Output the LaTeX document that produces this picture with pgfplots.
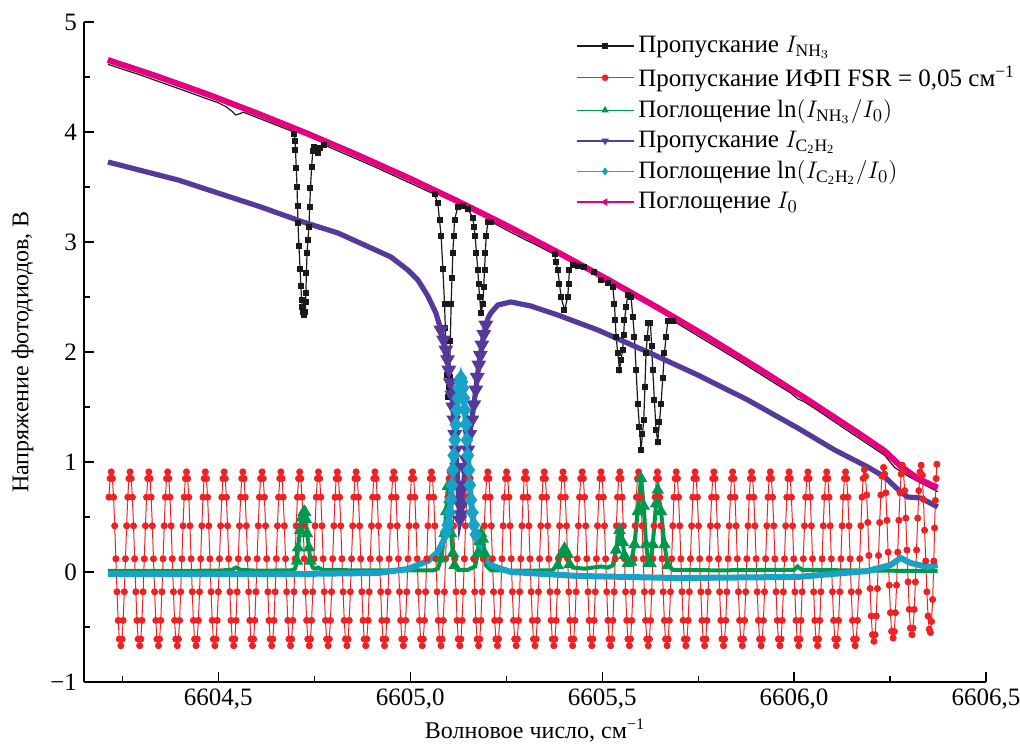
\documentclass[border=0pt]{standalone}
\usepackage{pgfplots}
\pgfplotsset{compat=1.18}
\usepackage{fontspec}
\setmainfont{Liberation Serif}
\definecolor{cBlack}{HTML}{1A1A1A}
\definecolor{cRed}{HTML}{EE2224}
\definecolor{cGreen}{HTML}{00984A}
\definecolor{cPurple}{HTML}{553A99}
\definecolor{cCyan}{HTML}{17A2C6}
\definecolor{cPink}{HTML}{E4007F}
\begin{document}
\begin{tikzpicture}[font=\fontsize{12}{14}\selectfont]
\begin{axis}[
  name=ax,
  scale only axis, width=451pt, height=330pt,
  xmin=6604.15, xmax=6606.5, ymin=-1, ymax=5,
  axis x line*=bottom, axis y line*=left,
  axis line style={-, line width=0.6pt},
  tick align=inside, major tick length=5pt, minor tick length=3pt,
  tick style={line width=0.6pt, black},
  ticklabel style={font=\fontsize{12.5}{14}\selectfont},
  xtick={6604.5,6605,6605.5,6606,6606.5},
  xticklabels={{6604,5},{6605,0},{6605,5},{6606,0},{6606,5}},
  minor xtick={6604.25,6604.75,6605.25,6605.75,6606.25},
  ytick={-1,0,1,2,3,4,5},
  yticklabels={−1,0,1,2,3,4,5},
  minor ytick={-0.5,0.5,1.5,2.5,3.5,4.5},
  xlabel={Волновое число, см\textsuperscript{−1}},
  ylabel={Напряжение фотодиодов, В},
  ylabel shift=1.5pt,
  xlabel shift=-2pt,
  legend style={at={(1.037,0.991)}, anchor=north east, draw=none, fill=white, inner xsep=0pt,
    font=\fontsize{12.5}{15}\selectfont, row sep=1.2pt},
  legend cell align=left,
  legend image code/.code={\draw[mark repeat=2,mark phase=2,line width=0.7pt] plot coordinates {(0cm,0cm) (0.5cm,0cm) (1cm,0cm)};},
]
\addlegendimage{color=cBlack, mark=square*, mark size=1.1pt}
\addlegendentry{Пропускание $I_{\mathrm{NH}_3}$}
\addlegendimage{color=cRed, mark=*, mark size=1.3pt}
\addlegendentry{Пропускание ИФП FSR = 0,05 см\textsuperscript{−1}}
\addlegendimage{color=cGreen, mark=triangle*, mark size=1.5pt}
\addlegendentry{Поглощение $\ln(I_{\mathrm{NH}_3}/I_0)$}
\addlegendimage{color=cPurple, mark=triangle*, mark size=1.5pt, mark options={rotate=180}}
\addlegendentry{Пропускание $I_{\mathrm{C_2H_2}}$}
\addlegendimage{color=cCyan, mark=diamond*, mark size=1.5pt}
\addlegendentry{Поглощение $\ln(I_{\mathrm{C_2H_2}}/I_0)$}
\addlegendimage{color=cPink, mark=triangle*, mark size=1.5pt, mark options={rotate=90}}
\addlegendentry{Поглощение $I_0$}
% I_NH3
\addplot[forget plot, color=cBlack, line width=0.6pt, mark=square*, mark size=1.2pt,
  mark indices={15,16,...,44,51,52,...,86,91,92,...,143}] coordinates {
(6604.2125,4.615)(6604.30,4.514)(6604.40,4.39)(6604.48,4.29)(6604.50,4.265)(6604.52,4.23)
(6604.535,4.19)(6604.545,4.155)(6604.555,4.165)(6604.565,4.18)(6604.58,4.16)(6604.62,4.105)
(6604.66,4.05)(6604.69,4.01)(6604.698,3.98)(6604.700,3.92)(6604.701,3.84)(6604.703,3.67)
(6604.705,3.50)(6604.7063,3.33)(6604.7075,3.17)(6604.710,2.96)(6604.713,2.75)(6604.715,2.60)
(6604.717,2.47)(6604.719,2.41)(6604.7215,2.36)(6604.724,2.34)(6604.7265,2.36)(6604.7272,2.45)
(6604.728,2.54)(6604.7295,2.72)(6604.731,2.90)(6604.7335,3.02)(6604.736,3.14)(6604.738,3.32)
(6604.740,3.49)(6604.743,3.68)(6604.746,3.83)(6604.750,3.86)(6604.756,3.84)
(6604.760,3.81)(6604.766,3.85)(6604.775,3.885)(6604.80,3.845)(6604.85,3.77)(6604.90,3.695)
(6604.95,3.615)(6605.00,3.535)(6605.04,3.47)(6605.0633,3.435)(6605.0719,3.35)(6605.0762,3.20)
(6605.0805,3.05)(6605.0850,2.75)(6605.0893,2.44)(6605.0914,2.22)(6605.0935,1.99)(6605.0957,1.79)
(6605.0979,1.594)(6605.1001,1.68)(6605.1023,1.775)(6605.1044,2.10)(6605.1065,2.44)(6605.1087,2.67)
(6605.1109,2.90)(6605.1131,3.05)(6605.1154,3.20)(6605.1240,3.32)(6605.1370,3.33)(6605.1500,3.30)
(6605.1630,3.22)(6605.1660,3.14)(6605.1690,3.05)(6605.1725,2.90)(6605.1760,2.745)(6605.1783,2.62)
(6605.1805,2.50)(6605.1846,2.35)(6605.1891,2.44)(6605.1913,2.59)(6605.1935,2.745)(6605.1956,2.90)
(6605.1977,3.05)(6605.2021,3.18)(6605.2107,3.185)(6605.25,3.11)(6605.30,3.02)(6605.33,2.97)
(6605.36,2.915)(6605.3758,2.89)(6605.3800,2.82)(6605.3844,2.745)(6605.3887,2.62)(6605.3930,2.50)
(6605.4018,2.38)(6605.4104,2.50)(6605.4125,2.62)(6605.4148,2.745)(6605.4234,2.79)
(6605.4365,2.785)(6605.4539,2.77)(6605.4799,2.725)(6605.4971,2.655)(6605.5146,2.625)
(6605.5276,2.594)(6605.5320,2.44)(6605.5341,2.29)(6605.5362,2.14)(6605.5406,1.99)(6605.5451,1.836)
(6605.5493,1.93)(6605.5536,2.02)(6605.5558,2.15)(6605.5581,2.29)(6605.5624,2.41)(6605.5667,2.52)
(6605.5753,2.50)(6605.5797,2.32)(6605.5841,2.14)(6605.5884,1.84)(6605.5927,1.53)(6605.5970,1.32)
(6605.6013,1.11)(6605.6048,1.25)(6605.6083,1.38)(6605.6113,1.68)(6605.6143,1.99)(6605.6175,2.13)
(6605.6206,2.26)(6605.6258,2.26)(6605.6288,2.05)(6605.6318,1.836)(6605.6361,1.56)(6605.6404,1.29)
(6605.6448,1.185)(6605.6491,1.36)(6605.6534,1.53)(6605.6578,1.76)(6605.6622,1.99)(6605.6665,2.14)
(6605.6708,2.28)(6605.6839,2.285)(6605.75,2.145)(6605.85,1.935)(6605.95,1.715)
(6605.99,1.63)(6606.009,1.575)(6606.025,1.55)(6606.05,1.495)(6606.15,1.26)
(6606.236,1.06)(6606.262,0.95)(6606.30,0.865)(6606.374,0.73)
};
% FSR
\addplot[forget plot, color=cRed, line width=0.5pt, mark=*, mark size=1.5pt] coordinates {
(6604.215,.68)(6604.218,.85)
(6604.221,.91)(6604.224,.85)(6604.227,.68)(6604.230,.42)(6604.233,.12)(6604.236,-.18)(6604.239,-.44)(6604.242,-.61)(6604.246,-.67)(6604.249,-.61)(6604.252,-.44)(6604.255,-.18)(6604.258,.12)(6604.261,.42)(6604.264,.68)(6604.267,.85)
(6604.270,.91)(6604.273,.85)(6604.276,.68)(6604.279,.42)(6604.282,.12)(6604.285,-.18)(6604.288,-.44)(6604.291,-.61)(6604.295,-.67)(6604.298,-.61)(6604.301,-.44)(6604.304,-.18)(6604.307,.12)(6604.310,.42)(6604.313,.68)(6604.316,.85)
(6604.319,.91)(6604.322,.85)(6604.325,.68)(6604.328,.42)(6604.331,.12)(6604.334,-.18)(6604.337,-.44)(6604.340,-.61)(6604.344,-.67)(6604.347,-.61)(6604.350,-.44)(6604.353,-.18)(6604.356,.12)(6604.359,.42)(6604.362,.68)(6604.365,.85)
(6604.368,.91)(6604.371,.85)(6604.374,.68)(6604.377,.42)(6604.380,.12)(6604.383,-.18)(6604.386,-.44)(6604.389,-.61)(6604.393,-.67)(6604.396,-.61)(6604.399,-.44)(6604.402,-.18)(6604.405,.12)(6604.408,.42)(6604.411,.68)(6604.414,.85)
(6604.417,.91)(6604.420,.85)(6604.423,.68)(6604.426,.42)(6604.429,.12)(6604.432,-.18)(6604.435,-.44)(6604.438,-.61)(6604.442,-.67)(6604.445,-.61)(6604.448,-.44)(6604.451,-.18)(6604.454,.12)(6604.457,.42)(6604.460,.68)(6604.463,.85)
(6604.466,.91)(6604.469,.85)(6604.472,.68)(6604.475,.42)(6604.478,.12)(6604.481,-.18)(6604.484,-.44)(6604.487,-.61)(6604.491,-.67)(6604.494,-.61)(6604.497,-.44)(6604.500,-.18)(6604.503,.12)(6604.506,.42)(6604.509,.68)(6604.512,.85)
(6604.515,.91)(6604.518,.85)(6604.521,.68)(6604.524,.42)(6604.527,.12)(6604.530,-.18)(6604.533,-.44)(6604.536,-.61)(6604.540,-.67)(6604.543,-.61)(6604.546,-.44)(6604.549,-.18)(6604.552,.12)(6604.555,.42)(6604.558,.68)(6604.561,.85)
(6604.564,.91)(6604.567,.85)(6604.570,.68)(6604.573,.42)(6604.576,.12)(6604.579,-.18)(6604.582,-.44)(6604.585,-.61)(6604.589,-.67)(6604.592,-.61)(6604.595,-.44)(6604.598,-.18)(6604.601,.12)(6604.604,.42)(6604.607,.68)(6604.610,.85)
(6604.614,.91)(6604.617,.85)(6604.620,.68)(6604.623,.42)(6604.626,.12)(6604.629,-.18)(6604.632,-.44)(6604.635,-.61)(6604.639,-.67)(6604.642,-.61)(6604.645,-.44)(6604.648,-.18)(6604.651,.12)(6604.654,.42)(6604.657,.68)(6604.660,.85)
(6604.663,.91)(6604.666,.85)(6604.669,.68)(6604.672,.42)(6604.675,.12)(6604.678,-.18)(6604.681,-.44)(6604.684,-.61)(6604.688,-.67)(6604.691,-.61)(6604.694,-.44)(6604.697,-.18)(6604.700,.12)(6604.703,.42)(6604.706,.68)(6604.709,.85)
(6604.712,.91)(6604.715,.85)(6604.718,.68)(6604.721,.42)(6604.724,.12)(6604.727,-.18)(6604.730,-.44)(6604.733,-.61)(6604.737,-.67)(6604.740,-.61)(6604.743,-.44)(6604.746,-.18)(6604.749,.12)(6604.752,.42)(6604.755,.68)(6604.758,.85)
(6604.761,.91)(6604.764,.85)(6604.767,.68)(6604.770,.42)(6604.773,.12)(6604.776,-.18)(6604.779,-.44)(6604.782,-.61)(6604.786,-.67)(6604.789,-.61)(6604.792,-.44)(6604.795,-.18)(6604.798,.12)(6604.801,.42)(6604.804,.68)(6604.807,.85)
(6604.810,.91)(6604.813,.85)(6604.816,.68)(6604.819,.42)(6604.822,.12)(6604.825,-.18)(6604.828,-.44)(6604.831,-.61)(6604.835,-.67)(6604.838,-.61)(6604.841,-.44)(6604.844,-.18)(6604.847,.12)(6604.850,.42)(6604.853,.68)(6604.856,.85)
(6604.859,.91)(6604.862,.85)(6604.865,.68)(6604.868,.42)(6604.871,.12)(6604.874,-.18)(6604.877,-.44)(6604.880,-.61)(6604.884,-.67)(6604.887,-.61)(6604.890,-.44)(6604.893,-.18)(6604.896,.12)(6604.899,.42)(6604.902,.68)(6604.905,.85)
(6604.908,.91)(6604.911,.85)(6604.914,.68)(6604.917,.42)(6604.920,.12)(6604.923,-.18)(6604.926,-.44)(6604.929,-.61)(6604.933,-.67)(6604.936,-.61)(6604.939,-.44)(6604.942,-.18)(6604.945,.12)(6604.948,.42)(6604.951,.68)(6604.954,.85)
(6604.957,.91)(6604.960,.85)(6604.963,.68)(6604.966,.42)(6604.969,.12)(6604.972,-.18)(6604.975,-.44)(6604.978,-.61)(6604.982,-.67)(6604.985,-.61)(6604.988,-.44)(6604.991,-.18)(6604.994,.12)(6604.997,.42)(6605.000,.68)(6605.003,.85)
(6605.006,.91)(6605.009,.85)(6605.012,.68)(6605.015,.42)(6605.018,.12)(6605.021,-.18)(6605.024,-.44)(6605.027,-.61)(6605.031,-.67)(6605.034,-.61)(6605.037,-.44)(6605.040,-.18)(6605.043,.12)(6605.046,.42)(6605.049,.68)(6605.052,.85)
(6605.055,.91)(6605.058,.85)(6605.061,.68)(6605.064,.42)(6605.067,.12)(6605.070,-.18)(6605.073,-.44)(6605.076,-.61)(6605.080,-.67)(6605.083,-.61)(6605.086,-.44)(6605.089,-.18)(6605.092,.12)(6605.095,.42)(6605.098,.68)(6605.101,.85)
(6605.104,.91)(6605.107,.85)(6605.110,.68)(6605.113,.42)(6605.116,.12)(6605.119,-.18)(6605.122,-.44)(6605.125,-.61)(6605.129,-.67)(6605.132,-.61)(6605.135,-.44)(6605.138,-.18)(6605.141,.12)(6605.144,.42)(6605.147,.68)(6605.150,.85)
(6605.153,.91)(6605.156,.85)(6605.159,.68)(6605.162,.42)(6605.165,.12)(6605.168,-.18)(6605.171,-.44)(6605.174,-.61)(6605.178,-.67)(6605.181,-.61)(6605.184,-.44)(6605.187,-.18)(6605.190,.12)(6605.193,.42)(6605.196,.68)(6605.199,.85)
(6605.202,.91)(6605.205,.85)(6605.208,.68)(6605.211,.42)(6605.214,.12)(6605.217,-.18)(6605.220,-.44)(6605.223,-.61)(6605.227,-.67)(6605.230,-.61)(6605.233,-.44)(6605.236,-.18)(6605.239,.12)(6605.242,.42)(6605.245,.68)(6605.248,.85)
(6605.251,.91)(6605.254,.85)(6605.257,.68)(6605.260,.42)(6605.263,.12)(6605.266,-.18)(6605.269,-.44)(6605.272,-.61)(6605.276,-.67)(6605.279,-.61)(6605.282,-.44)(6605.285,-.18)(6605.288,.12)(6605.291,.42)(6605.294,.68)(6605.297,.85)
(6605.300,.91)(6605.303,.85)(6605.306,.68)(6605.309,.42)(6605.312,.12)(6605.315,-.18)(6605.318,-.44)(6605.321,-.61)(6605.325,-.67)(6605.328,-.61)(6605.331,-.44)(6605.334,-.18)(6605.337,.12)(6605.340,.42)(6605.343,.68)(6605.346,.85)
(6605.349,.91)(6605.352,.85)(6605.355,.68)(6605.358,.42)(6605.361,.12)(6605.364,-.18)(6605.367,-.44)(6605.370,-.61)(6605.374,-.67)(6605.377,-.61)(6605.380,-.44)(6605.383,-.18)(6605.386,.12)(6605.389,.42)(6605.392,.68)(6605.395,.85)
(6605.398,.91)(6605.401,.85)(6605.404,.68)(6605.407,.42)(6605.410,.12)(6605.413,-.18)(6605.416,-.44)(6605.419,-.61)(6605.423,-.67)(6605.426,-.61)(6605.429,-.44)(6605.432,-.18)(6605.435,.12)(6605.438,.42)(6605.441,.68)(6605.444,.85)
(6605.448,.91)(6605.451,.85)(6605.454,.68)(6605.457,.42)(6605.460,.12)(6605.463,-.18)(6605.466,-.44)(6605.469,-.61)(6605.473,-.67)(6605.476,-.61)(6605.479,-.44)(6605.482,-.18)(6605.485,.12)(6605.488,.42)(6605.491,.68)(6605.494,.85)
(6605.497,.91)(6605.500,.85)(6605.503,.68)(6605.506,.42)(6605.509,.12)(6605.512,-.18)(6605.515,-.44)(6605.518,-.61)(6605.522,-.67)(6605.525,-.61)(6605.528,-.44)(6605.531,-.18)(6605.534,.12)(6605.537,.42)(6605.540,.68)(6605.543,.85)
(6605.546,.91)(6605.549,.85)(6605.552,.68)(6605.555,.42)(6605.558,.12)(6605.561,-.18)(6605.564,-.44)(6605.567,-.61)(6605.571,-.67)(6605.574,-.61)(6605.577,-.44)(6605.580,-.18)(6605.583,.12)(6605.586,.42)(6605.589,.68)(6605.592,.85)
(6605.595,.91)(6605.598,.85)(6605.601,.68)(6605.604,.42)(6605.607,.12)(6605.610,-.18)(6605.613,-.44)(6605.616,-.61)(6605.620,-.67)(6605.623,-.61)(6605.626,-.44)(6605.629,-.18)(6605.632,.12)(6605.635,.42)(6605.638,.68)(6605.641,.85)
(6605.644,.91)(6605.647,.85)(6605.650,.68)(6605.653,.42)(6605.656,.12)(6605.659,-.18)(6605.662,-.44)(6605.665,-.61)(6605.669,-.67)(6605.672,-.61)(6605.675,-.44)(6605.678,-.18)(6605.681,.12)(6605.684,.42)(6605.687,.68)(6605.690,.85)
(6605.693,.91)(6605.696,.85)(6605.699,.68)(6605.702,.42)(6605.705,.12)(6605.708,-.18)(6605.711,-.44)(6605.714,-.61)(6605.718,-.67)(6605.721,-.61)(6605.724,-.44)(6605.727,-.18)(6605.730,.12)(6605.733,.42)(6605.736,.68)(6605.739,.85)
(6605.742,.91)(6605.745,.85)(6605.748,.68)(6605.751,.42)(6605.754,.12)(6605.757,-.18)(6605.760,-.44)(6605.763,-.61)(6605.767,-.67)(6605.770,-.61)(6605.773,-.44)(6605.776,-.18)(6605.779,.12)(6605.782,.42)(6605.785,.68)(6605.788,.85)
(6605.791,.91)(6605.794,.85)(6605.797,.68)(6605.800,.42)(6605.803,.12)(6605.806,-.18)(6605.809,-.44)(6605.812,-.61)(6605.816,-.67)(6605.819,-.61)(6605.822,-.44)(6605.825,-.18)(6605.828,.12)(6605.831,.42)(6605.834,.68)(6605.837,.85)
(6605.840,.91)(6605.843,.85)(6605.846,.68)(6605.849,.42)(6605.852,.12)(6605.855,-.18)(6605.858,-.44)(6605.861,-.61)(6605.865,-.67)(6605.868,-.61)(6605.871,-.44)(6605.874,-.18)(6605.877,.12)(6605.880,.42)(6605.883,.68)(6605.886,.85)
(6605.889,.91)(6605.892,.85)(6605.895,.68)(6605.898,.42)(6605.901,.12)(6605.904,-.18)(6605.907,-.44)(6605.910,-.61)(6605.914,-.67)(6605.917,-.61)(6605.920,-.44)(6605.923,-.18)(6605.926,.12)(6605.929,.42)(6605.932,.68)(6605.935,.85)
(6605.938,.91)(6605.941,.85)(6605.944,.68)(6605.947,.42)(6605.950,.12)(6605.953,-.18)(6605.956,-.44)(6605.959,-.61)(6605.963,-.67)(6605.966,-.61)(6605.969,-.44)(6605.972,-.18)(6605.975,.12)(6605.978,.42)(6605.981,.68)(6605.984,.85)
(6605.987,.91)(6605.990,.85)(6605.993,.68)(6605.996,.42)(6605.999,.12)(6606.002,-.18)(6606.005,-.44)(6606.008,-.61)(6606.012,-.67)(6606.015,-.61)(6606.018,-.44)(6606.021,-.18)(6606.024,.12)(6606.027,.42)(6606.030,.68)(6606.033,.85)
(6606.036,.91)(6606.039,.85)(6606.042,.68)(6606.045,.42)(6606.048,.12)(6606.051,-.18)(6606.054,-.44)(6606.057,-.61)(6606.061,-.67)(6606.064,-.61)(6606.067,-.44)(6606.070,-.18)(6606.073,.12)(6606.076,.42)(6606.079,.68)(6606.082,.85)
(6606.085,.91)(6606.088,.85)(6606.091,.68)(6606.094,.42)(6606.097,.12)(6606.100,-.18)(6606.103,-.44)(6606.106,-.61)(6606.110,-.67)(6606.113,-.61)(6606.116,-.44)(6606.119,-.18)(6606.122,.12)(6606.125,.42)(6606.128,.68)(6606.131,.85)
(6606.134,.91)(6606.137,.85)(6606.140,.68)(6606.143,.42)(6606.146,.12)(6606.149,-.18)(6606.152,-.44)(6606.155,-.61)(6606.159,-.67)(6606.162,-.61)(6606.165,-.44)(6606.168,-.18)(6606.171,.12)(6606.174,.42)(6606.177,.68)(6606.180,.85)
(6606.183,.93)(6606.186,.87)(6606.189,.70)(6606.192,.45)(6606.195,.15)(6606.198,-.15)(6606.201,-.40)(6606.204,-.57)(6606.208,-.63)(6606.211,-.57)(6606.214,-.40)(6606.217,-.15)(6606.220,.15)(6606.223,.45)(6606.226,.70)(6606.229,.87)
(6606.233,.95)(6606.236,.89)(6606.239,.72)(6606.242,.47)(6606.245,.18)(6606.248,-.12)(6606.251,-.37)(6606.254,-.54)(6606.258,-.60)(6606.261,-.54)(6606.264,-.37)(6606.267,-.12)(6606.270,.18)(6606.273,.47)(6606.276,.72)(6606.279,.89)
(6606.282,.97)(6606.285,.91)(6606.288,.74)(6606.291,.49)(6606.294,.20)(6606.297,-.09)(6606.300,-.34)(6606.303,-.51)(6606.307,-.57)(6606.310,-.51)(6606.313,-.34)(6606.316,-.09)(6606.319,.20)(6606.322,.49)(6606.325,.74)(6606.328,.91)
(6606.331,.97)(6606.334,.88)(6606.337,.66)(6606.340,.38)(6606.343,.10)(6606.346,-.18)(6606.349,-.40)(6606.352,-.52)(6606.355,-.55)(6606.358,-.45)(6606.361,-.25)(6606.364,.10)(6606.366,.40)(6606.368,.65)(6606.370,.85)(6606.372,.98)
};
% ln(I_NH3/I0)
\addplot[forget plot, color=cGreen, line width=2pt, mark=triangle*, mark size=1.6pt,
  mark indices={10,11,...,20,29,30,...,36,40,41,...,44,49,50,...,53,59,60,...,77}] coordinates {
(6604.2125,0.01)(6604.35,0.01)(6604.50,0.012)(6604.535,0.02)(6604.546,0.04)(6604.558,0.02)
(6604.60,0.012)(6604.69,0.015)(6604.700,0.03)(6604.705,0.10)(6604.7075,0.22)(6604.713,0.38)
(6604.717,0.49)(6604.7215,0.54)(6604.724,0.55)(6604.7265,0.54)(6604.728,0.48)(6604.731,0.35)
(6604.736,0.22)(6604.740,0.10)(6604.746,0.04)(6604.755,0.03)(6604.760,0.04)(6604.770,0.02)
(6604.85,0.015)(6605.00,0.015)(6605.06,0.015)(6605.0719,0.03)(6605.0805,0.12)(6605.0893,0.35)
(6605.0935,0.55)(6605.0979,0.78)(6605.1023,0.66)(6605.1065,0.35)(6605.1109,0.17)(6605.1154,0.06)
(6605.124,0.02)(6605.150,0.02)(6605.1690,0.05)(6605.1760,0.17)(6605.1805,0.28)(6605.1846,0.35)
(6605.1891,0.30)(6605.1935,0.17)(6605.1977,0.06)(6605.2107,0.015)(6605.30,0.012)(6605.37,0.015)
(6605.3844,0.06)(6605.3930,0.16)(6605.4018,0.215)(6605.4104,0.16)(6605.4148,0.07)(6605.4234,0.04)
(6605.4539,0.03)(6605.4971,0.05)(6605.5146,0.04)(6605.5276,0.06)(6605.5362,0.20)(6605.5451,0.38)
(6605.5536,0.27)(6605.5581,0.15)(6605.5667,0.08)(6605.5753,0.09)(6605.5841,0.25)(6605.5927,0.55)
(6605.6013,0.85)(6605.6083,0.60)(6605.6143,0.25)(6605.6206,0.08)(6605.6258,0.08)(6605.6318,0.25)
(6605.6404,0.62)(6605.6448,0.745)(6605.6534,0.55)(6605.6622,0.25)(6605.6708,0.06)(6605.6839,0.02)
(6605.80,0.015)(6606.000,0.02)(6606.009,0.05)(6606.02,0.02)(6606.20,0.012)(6606.374,0.01)
};
% I_C2H2
\addplot[forget plot, color=cPurple, line width=2.6pt, mark=triangle*, mark size=1.7pt, mark options={rotate=180},
  mark indices={12,13,...,42}] coordinates {
(6604.2125,3.727)(6604.3948,3.564)(6604.6109,3.318)(6604.7203,3.182)(6604.8115,3.082)(6604.9495,2.864)
(6604.9938,2.745)(6605.0198,2.655)(6605.0458,2.509)(6605.0667,2.355)(6605.0740,2.27)(6605.0797,2.20)
(6605.0865,2.11)(6605.0927,2.018)(6605.0970,1.93)(6605.1005,1.836)(6605.1045,1.72)(6605.1083,1.609)
(6605.1110,1.50)(6605.1135,1.382)(6605.1160,1.25)(6605.1188,1.109)(6605.1215,0.95)(6605.1240,0.791)
(6605.1265,0.63)(6605.1292,0.473)(6605.1318,0.52)(6605.1344,0.609)(6605.1385,0.77)(6605.1422,0.927)
(6605.1460,1.02)(6605.1500,1.109)(6605.1550,1.25)(6605.1604,1.382)(6605.1655,1.52)(6605.1708,1.655)
(6605.1745,1.77)(6605.1786,1.882)(6605.1825,1.97)(6605.1865,2.064)(6605.1915,2.16)(6605.1969,2.245)
(6605.2030,2.31)(6605.2099,2.355)(6605.2281,2.427)(6605.2620,2.455)(6605.3141,2.418)
(6605.3844,2.336)(6605.4885,2.200)(6605.6188,2.000)(6605.7490,1.791)(6605.8792,1.564)(6606.0094,1.309)
(6606.1057,1.109)(6606.1917,0.955)(6606.2359,0.864)(6606.2776,0.727)(6606.2958,0.682)(6606.3297,0.673)
(6606.3740,0.591)
};
% ln(I_C2H2/I0)
\addplot[forget plot, color=cCyan, line width=3pt, mark=diamond*, mark size=1.8pt,
  mark indices={9,10,...,35}] coordinates {
(6604.2125,-0.018)(6604.4469,-0.018)(6604.7073,-0.018)(6604.9156,-0.009)(6604.9938,0.027)(6605.0458,0.100)
(6605.0719,0.182)(6605.0875,0.291)(6605.0930,0.36)(6605.0979,0.427)(6605.1020,0.54)(6605.1057,0.655)
(6605.1085,0.79)(6605.1109,0.927)(6605.1135,1.06)(6605.1161,1.200)(6605.1188,1.34)(6605.1214,1.473)
(6605.1240,1.58)(6605.1266,1.673)(6605.1292,1.73)(6605.1318,1.764)(6605.1344,1.73)(6605.1370,1.673)
(6605.1396,1.58)(6605.1422,1.473)(6605.1448,1.34)(6605.1474,1.200)(6605.1500,1.06)(6605.1526,0.927)
(6605.1552,0.79)(6605.1578,0.655)(6605.1617,0.54)(6605.1656,0.427)(6605.1710,0.34)(6605.1760,0.264)
(6605.1917,0.136)(6605.2151,0.055)(6605.2620,0.000)(6605.4365,-0.036)(6605.6969,-0.055)(6606.0094,-0.045)
(6606.1917,0.009)(6606.2516,0.064)(6606.2776,0.127)(6606.3036,0.082)(6606.3479,0.045)(6606.3740,0.064)
};
% I0
\addplot[forget plot, color=cPink, line width=3pt] coordinates {
(6604.212,4.655)(6604.343,4.503)(6604.473,4.341)(6604.603,4.167)(6604.733,3.984)(6604.863,3.790)
(6604.994,3.585)(6605.124,3.370)(6605.254,3.144)(6605.384,2.907)(6605.514,2.660)(6605.645,2.402)
(6605.775,2.135)(6605.905,1.855)(6606.035,1.566)(6606.166,1.266)(6606.236,1.10)(6606.278,0.96)
(6606.322,0.85)(6606.374,0.765)
};
\end{axis}
\pgfresetboundingbox
\path[use as bounding box] ([xshift=-42pt,yshift=-31.5pt]ax.south west) rectangle ([xshift=17pt,yshift=11pt]ax.north east);
\end{tikzpicture}
\end{document}
